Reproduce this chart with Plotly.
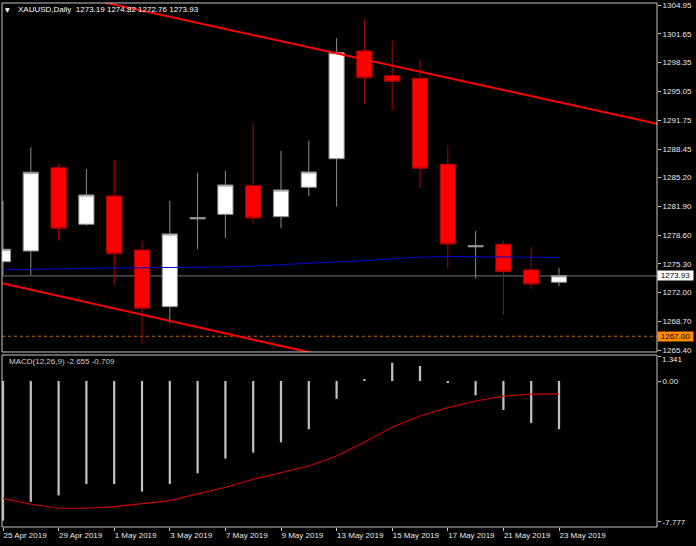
import plotly.graph_objects as go

# ---------------- data ----------------
dates = ["25 Apr 2019", "26 Apr 2019", "29 Apr 2019", "30 Apr 2019", "1 May 2019",
         "2 May 2019", "3 May 2019", "6 May 2019", "7 May 2019", "8 May 2019",
         "9 May 2019", "10 May 2019", "13 May 2019", "14 May 2019", "15 May 2019",
         "16 May 2019", "17 May 2019", "20 May 2019", "21 May 2019", "22 May 2019",
         "23 May 2019"]
opens = [1275.54, 1276.77, 1286.31, 1279.83, 1283.07, 1276.88, 1270.39, 1280.45,
         1280.97, 1284.25, 1280.70, 1284.07, 1287.34, 1299.68, 1296.85, 1296.55,
         1286.70, 1277.25, 1277.54, 1274.60, 1273.19]
highs = [1282.50, 1288.65, 1286.74, 1286.16, 1287.19, 1277.92, 1282.50, 1285.74,
         1285.97, 1291.47, 1288.23, 1289.41, 1301.14, 1303.35, 1300.83, 1298.65,
         1288.88, 1279.06, 1277.92, 1277.23, 1274.82]
lows = [1274.00, 1274.02, 1277.95, 1279.64, 1272.88, 1266.20, 1268.49, 1276.97,
        1278.26, 1279.90, 1279.40, 1283.07, 1281.85, 1293.58, 1292.92, 1284.02,
        1274.79, 1273.60, 1269.41, 1272.42, 1272.76]
closes = [1276.97, 1285.79, 1279.37, 1283.19, 1276.46, 1270.21, 1278.72, 1280.60,
          1284.33, 1280.55, 1283.76, 1285.82, 1299.49, 1296.62, 1296.21, 1286.25,
          1277.57, 1277.38, 1274.40, 1272.99, 1273.93]
ma_values = [1274.62, 1274.68, 1274.77, 1274.79, 1274.82, 1274.85, 1274.86, 1274.88,
             1274.94, 1275.05, 1275.19, 1275.34, 1275.51, 1275.68, 1275.89, 1276.06,
             1276.14, 1276.14, 1276.08, 1276.06, 1276.05]
macd_hist = [-7.70, -6.66, -6.31, -5.68, -5.68, -6.10, -5.68, -5.09, -4.28, -3.95,
             -3.38, -2.66, -0.98, 0.10, 1.01, 0.83, -0.08, -0.79, -1.60, -2.32, -2.655]
macd_signal = [-6.47, -6.80, -7.02, -7.02, -6.93, -6.78, -6.60, -6.23, -5.86, -5.42,
               -5.06, -4.69, -4.14, -3.38, -2.55, -1.93, -1.47, -1.10, -0.83, -0.72, -0.709]

trend_upper_x = [0.0, 23.6]
trend_upper_y = [1307.80, 1291.29]
trend_lower_x = [-0.1, 12.0]
trend_lower_y = [1273.13, 1264.46]
alert_level = 1267.00

price_ticks = [1304.95, 1301.65, 1298.35, 1295.05, 1291.75, 1288.45, 1285.20,
               1281.90, 1278.60, 1275.30, 1272.00, 1268.70, 1265.40]
macd_max = 1.341
macd_ticks = [macd_max, 0.0, -7.777]
macd_tick_text = ["", "0.00", "-7.777"]
date_tick_idx = [0, 2, 4, 6, 8, 10, 12, 14, 16, 18, 20]

idx = list(range(len(dates)))

# ---------------- figure ----------------
FONT = "Liberation Sans, Arial, sans-serif"
TXT = "#e8e8e8"
FRAME = "#c8c8c8"

fig = go.Figure()

fig.add_trace(go.Candlestick(
    x=idx, open=opens, high=highs, low=lows, close=closes,
    increasing=dict(fillcolor="#ffffff", line=dict(color="#8c8c8c", width=1)),
    decreasing=dict(fillcolor="#ff0000", line=dict(color="#b40000", width=1)),
    whiskerwidth=0, xaxis="x", yaxis="y", hoverinfo="skip", showlegend=False))

fig.add_trace(go.Scatter(x=idx, y=ma_values, mode="lines",
                         line=dict(color="#0000d2", width=1),
                         xaxis="x", yaxis="y", hoverinfo="skip", showlegend=False))

fig.add_trace(go.Scatter(x=trend_upper_x, y=trend_upper_y, mode="lines",
                         line=dict(color="#ff0000", width=2),
                         xaxis="x", yaxis="y", hoverinfo="skip", showlegend=False))
fig.add_trace(go.Scatter(x=trend_lower_x, y=trend_lower_y, mode="lines",
                         line=dict(color="#ff0000", width=2),
                         xaxis="x", yaxis="y", hoverinfo="skip", showlegend=False))

fig.add_trace(go.Bar(x=idx, y=macd_hist, width=0.08, marker=dict(color="#c0c0c0", line=dict(width=0)),
                     xaxis="x2", yaxis="y2", hoverinfo="skip", showlegend=False))
fig.add_trace(go.Scatter(x=idx, y=macd_signal, mode="lines",
                         line=dict(color="#c80000", width=1.2),
                         xaxis="x2", yaxis="y2", hoverinfo="skip", showlegend=False))

main_bottom = 0.334
macd_top = 0.3282
xr = [-0.036, 23.525]

fig.update_layout(
    width=696, height=546,
    margin=dict(l=2, r=39, t=3, b=19, autoexpand=False),
    paper_bgcolor="#000000", plot_bgcolor="#000000",
    boxgap=0.22,
    font=dict(family=FONT, size=8, color=TXT),
    showlegend=False,
    xaxis=dict(domain=[0, 1], range=xr, anchor="y", showgrid=False, zeroline=False,
               showticklabels=False, ticks="", rangeslider=dict(visible=False),
               matches="x2", automargin=False),
    yaxis=dict(domain=[main_bottom, 1], range=[1265.20, 1305.18], side="right",
               tickvals=price_ticks, ticktext=[f"{v:.2f}" for v in price_ticks],
               ticks="outside", ticklen=3, tickcolor=FRAME, showgrid=False,
               zeroline=False, automargin=False,
               tickfont=dict(size=8, color=TXT, family=FONT)),
    xaxis2=dict(domain=[0, 1], range=xr, anchor="y2", showgrid=False, zeroline=False,
                tickvals=date_tick_idx, ticktext=[dates[i] for i in date_tick_idx],
                ticks="outside", ticklen=3, tickcolor=FRAME, tickangle=0,
                ticklabelposition="outside right", automargin=False,
                tickfont=dict(size=8, color=TXT, family=FONT)),
    yaxis2=dict(domain=[0, macd_top], range=[-8.053, 1.434], side="right",
                tickvals=macd_ticks, ticktext=macd_tick_text,
                ticks="outside", ticklen=3, tickcolor=FRAME, showgrid=False,
                zeroline=False, automargin=False,
                tickfont=dict(size=8, color=TXT, family=FONT)),
    shapes=[
        dict(type="line", xref="paper", yref="y", x0=0, x1=1, y0=closes[-1], y1=closes[-1],
             line=dict(color="#5a6068", width=1.2), layer="below"),
        dict(type="line", xref="paper", yref="y", x0=0, x1=1, y0=alert_level, y1=alert_level,
             line=dict(color="#c86400", width=1.2, dash="dot"), layer="below"),
        dict(type="rect", xref="paper", yref="paper", x0=0, x1=1, y0=main_bottom, y1=1,
             line=dict(color=FRAME, width=1), layer="above"),
        dict(type="rect", xref="paper", yref="paper", x0=0, x1=1, y0=0, y1=macd_top,
             line=dict(color=FRAME, width=1), layer="above"),
    ],
    annotations=[
        dict(xref="paper", yref="paper", x=0.0084, y=0.9876, text="▼", showarrow=False,
             xanchor="center", yanchor="middle",
             font=dict(family="DejaVu Sans", size=6, color="#ffffff")),
        dict(xref="paper", yref="paper", x=0.0214, y=0.9885,
             text=f"XAUUSD,Daily  {opens[-1]:.2f} {highs[-1]:.2f} {lows[-1]:.2f} {closes[-1]:.2f}",
             showarrow=False, xanchor="left", yanchor="middle",
             font=dict(family=FONT, size=8, color="#ffffff")),
        dict(xref="paper", yref="paper", x=0.0076, y=0.3149,
             text=f"MACD(12,26,9) {macd_hist[-1]:.3f} {macd_signal[-1]:.3f}",
             showarrow=False, xanchor="left", yanchor="middle",
             font=dict(family=FONT, size=8, color="#d0d0d0")),
        dict(xref="paper", yref="paper", x=1, y=macd_top, text=f"{macd_max:.3f}",
             showarrow=False, xanchor="left", yanchor="top", xshift=4, yshift=1,
             borderpad=0, font=dict(family=FONT, size=8, color=TXT)),
        dict(xref="paper", yref="y", x=1, y=closes[-1], text=f"{closes[-1]:.2f}",
             showarrow=False, xanchor="left", yanchor="middle", bgcolor="#ffffff",
             width=35, height=9, borderpad=0,
             font=dict(family=FONT, size=8, color="#000000")),
        dict(xref="paper", yref="y", x=1, y=alert_level, text=f"{alert_level:.2f}",
             showarrow=False, xanchor="left", yanchor="middle", bgcolor="#ff8c00",
             width=35, height=9, borderpad=0,
             font=dict(family=FONT, size=8, color="#000000")),
    ],
)

fig.write_html("out.html")
